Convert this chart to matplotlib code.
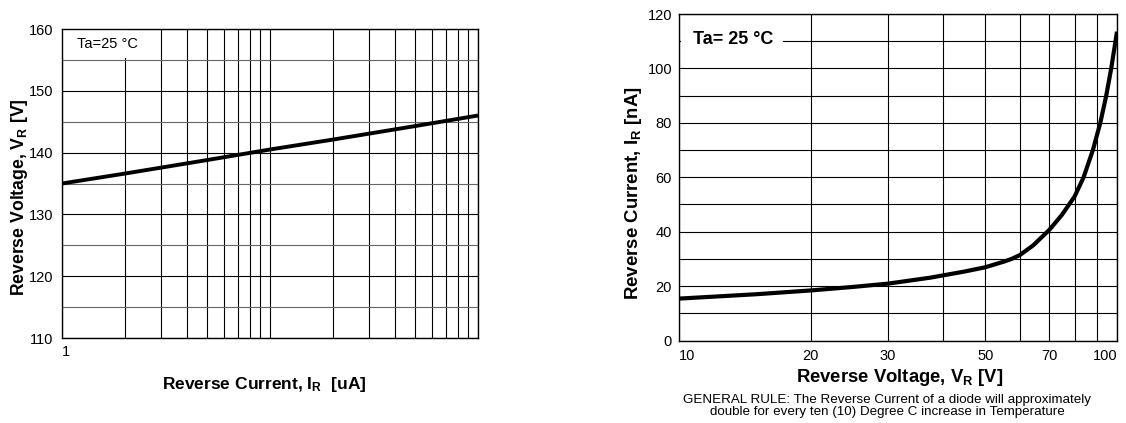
import matplotlib
matplotlib.use('Agg')
import matplotlib.pyplot as plt
from matplotlib.patches import Rectangle
from matplotlib.ticker import NullLocator
import numpy as np

plt.rcParams['font.family'] = 'Liberation Sans'
plt.rcParams['mathtext.fontset'] = 'custom'
plt.rcParams['mathtext.rm'] = 'Liberation Sans:bold'
plt.rcParams['mathtext.default'] = 'rm'

# left chart: reverse voltage vs reverse current (log x)
ir_left = [1, 2, 5, 10, 20, 50, 100]
vr_left = [135.0, 136.6, 138.8, 140.5, 142.1, 144.3, 146.0]

# right chart: reverse current vs reverse voltage (log x)
vr_right = [10, 15, 20, 25, 30, 37.5, 44.7, 50, 55.2, 57.5, 60, 62.3, 64.4,
            70, 74.8, 80, 83.9, 88.1, 91.6, 94.5, 97.0, 99.1, 100]
ir_right = [15.4, 17.0, 18.4, 19.7, 20.9, 23.1, 25.3, 26.9, 29.0, 30.0, 31.4,
            33.3, 35.0, 40.6, 46.1, 52.9, 60.0, 70.0, 80.0, 90.0, 100.0,
            109.5, 113.5]

left_xticks = [1, 2, 3, 4, 5, 6, 7, 8, 9, 10, 20, 30, 40, 50, 60, 70, 80, 90, 100]
left_xlabels = ['1'] + [''] * 18
left_yticks = [110, 120, 130, 140, 150, 160]
left_yminor = [115, 125, 135, 145, 155]

right_xticks = [10, 20, 30, 40, 50, 60, 70, 80, 90, 100]
right_xlabels = ['10', '20', '30', '', '50', '', '70', '', '', '100']
right_yticks = list(range(0, 121, 10))
right_ylabels = [str(v) if v % 20 == 0 else '' for v in right_yticks]

W, H = 1126, 423
fig = plt.figure(figsize=(W / 100, H / 100), dpi=100)

def px(x, y):
    return x / W, 1 - y / H

# ---- left ----
ax1 = fig.add_axes([62 / W, 1 - 338 / H, 416 / W, 309 / H])
ax1.set_xscale('log')
ax1.set_xlim(1, 100)
ax1.set_ylim(110, 160)
ax1.set_xticks(left_xticks)
ax1.set_xticklabels(left_xlabels)
ax1.xaxis.set_minor_locator(NullLocator())
ax1.set_yticks(left_yticks)
ax1.set_yticks(left_yminor, minor=True)
ax1.tick_params(which='both', length=0, labelsize=10.5)
ax1.tick_params(axis='x', pad=5)
ax1.tick_params(axis='y', pad=6)
for lab in ax1.get_xticklabels():
    lab.set_ha('left')
ax1.grid(True, which='major', color='black', linewidth=0.8)
ax1.grid(True, which='minor', axis='y', color='#666666', linewidth=0.8)
ax1.plot(ir_left, vr_left, color='black', linewidth=2.8, zorder=3,
         solid_capstyle='butt')
ax1.add_patch(Rectangle((0.002, 0.905), 0.155, 0.093, transform=ax1.transAxes,
                        facecolor='white', edgecolor='none', zorder=1.8))
ax1.text(0.035, 0.95, 'Ta=25 °C', transform=ax1.transAxes, fontsize=10.5,
         va='center', ha='left', zorder=4)
for s in ax1.spines.values():
    s.set_linewidth(1.0)

fig.text(*px(264, 384), r'Reverse Current, I$_\mathrm{R}$  [uA]', fontsize=12.5,
         fontweight='bold', ha='center', va='center')
fig.text(*px(20, 197), r'Reverse Voltage, V$_\mathrm{R}$ [V]', fontsize=12.7,
         fontweight='bold', ha='center', va='center', rotation=90)

# ---- right ----
ax2 = fig.add_axes([679 / W, 1 - 340.5 / H, 438 / W, 326.5 / H])
ax2.set_xscale('log')
ax2.set_xlim(10, 100)
ax2.set_ylim(0, 120)
ax2.set_xticks(right_xticks)
ax2.set_xticklabels(right_xlabels)
ax2.xaxis.set_minor_locator(NullLocator())
ax2.set_yticks(right_yticks)
ax2.set_yticklabels(right_ylabels)
ax2.tick_params(which='both', length=0, labelsize=10.5)
ax2.tick_params(axis='x', pad=6)
ax2.tick_params(axis='y', pad=5)
xl = ax2.get_xticklabels()
xl[0].set_ha('left')
xl[-1].set_ha('right')
ax2.grid(True, which='major', color='black', linewidth=0.8)
ax2.plot(vr_right, ir_right, color='black', linewidth=3.0, zorder=3,
         solid_joinstyle='round', solid_capstyle='butt')
ax2.add_patch(Rectangle((0.005, 0.89), 0.232, 0.062, transform=ax2.transAxes,
                        facecolor='white', edgecolor='none', zorder=1.8))
ax2.text(0.033, 0.922, 'Ta= 25 °C', transform=ax2.transAxes, fontsize=13,
         fontweight='bold', va='center', ha='left', zorder=4)
for s in ax2.spines.values():
    s.set_linewidth(1.0)

fig.text(*px(900, 377), r'Reverse Voltage, V$_\mathrm{R}$ [V]', fontsize=13.3,
         fontweight='bold', ha='center', va='center')
fig.text(*px(633, 193), r'Reverse Current, I$_\mathrm{R}$ [nA]', fontsize=13.4,
         fontweight='bold', ha='center', va='center', rotation=90)
fig.text(*px(887, 406), 'GENERAL RULE: The Reverse Current of a diode will approximately\n'
         'double for every ten (10) Degree C increase in Temperature',
         fontsize=9.6, ha='center', va='center', linespacing=1.1)

fig.savefig('out.png', dpi=100)
